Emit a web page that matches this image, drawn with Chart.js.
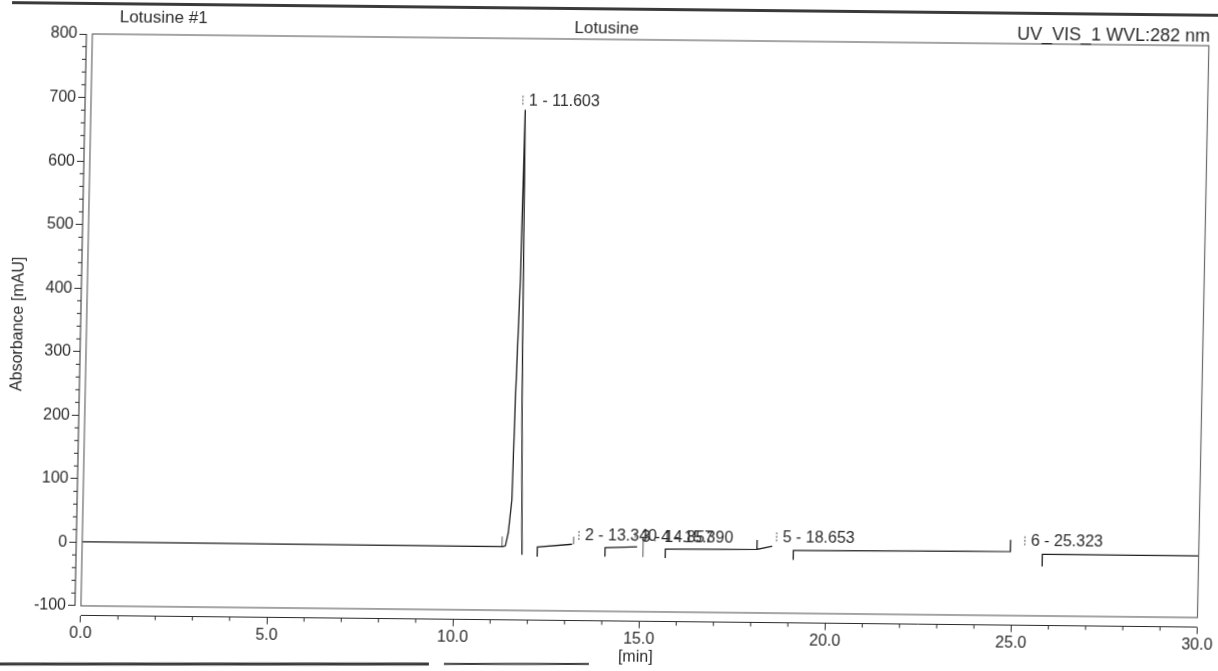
<!DOCTYPE html>
<html><head><meta charset="utf-8">
<script src="https://cdn.jsdelivr.net/npm/chart.js@4.4.1/dist/chart.umd.min.js"></script>
<style>
html,body{margin:0;padding:0;background:#fff;overflow:hidden;width:1218px;height:671px;}
#c{display:block;transform-origin:82px 606px;transform:matrix(1,0.0105,-0.02,1,0,0);}
</style></head><body>
<canvas id="c" width="1218" height="671"></canvas>
<script>
const sampleName = 'Lotusine #1';
const chartTitle = 'Lotusine';
const detectorName = 'UV_VIS_1 WVL:282 nm';
const xTitle = '[min]';
const yTitle = 'Absorbance [mAU]';
const timeTicks = [0, 5, 10, 15, 20, 25, 30];
const absTicks = [-100, 0, 100, 200, 300, 400, 500, 600, 700, 800];

// chromatogram trace (null = gap in the printed trace)
const traceTimes  = [0, 11.30, 11.37, 11.44, 11.52, 11.56, 11.63, 11.67, 11.71, 11.74, 11.79, 11.82, 12.00, 12.23, 12.23, 13.16, 13.60, 14.05, 14.05, 14.91, 15.30, 15.67, 15.67, 18.13, 18.13, 18.13, 18.54, 18.80, 19.11, 19.11, 24.94, 24.94, 25.40, 25.80, 25.80, 30.00];
const traceValues = [1, 0, 1.3, 21.9, 73.9, 231, 420, 688, 420, 231, 74, -12.5, null, -15, 0, 5, null, -14, 0, 2, null, -15, -1, 0, 15, 0, 5, null, -16, -1, 1, 19, null, -22, -3, -3];

// peak delimiters
const delimTimes = [11.28, 13.20, 15.07];
const delimLow   = [0, 5, -14];
const delimHigh  = [16, 17, 18];

// peak table
const peakNumbers = [1, 2, 3, 4, 5, 6];
const peakTimes   = [11.603, 13.340, 14.857, 15.390, 18.653, 25.323];
const peakHeights = [688, 4, 3, 3, 5, 3];

const FONT = 'Liberation Sans, Arial, sans-serif';
const INK = '#2b2b2b';

const tracePts = traceTimes.map((t, i) => ({x: t, y: traceValues[i]}));
const delimPts = [];
delimTimes.forEach((t, i) => {
  delimPts.push({x: t, y: delimLow[i]}, {x: t, y: delimHigh[i]}, {x: t, y: null});
});

function seg(ctx, x1, y1, x2, y2) { ctx.beginPath(); ctx.moveTo(x1, y1); ctx.lineTo(x2, y2); ctx.stroke(); }

const decor = {
  id: 'decor',
  beforeDraw(chart) {
    const ctx = chart.ctx;
    ctx.save();
    ctx.fillStyle = '#fff';
    ctx.fillRect(0, 0, chart.width, chart.height);
    ctx.restore();
  },
  afterDraw(chart) {
    const {ctx, chartArea: a, scales} = chart;
    const xs = scales.x, ys = scales.y;
    const X = v => xs.getPixelForValue(v), Y = v => ys.getPixelForValue(v);
    ctx.save();
    const fl = X(timeTicks[0]), fr = X(timeTicks[timeTicks.length - 1]);
    const ft = Y(absTicks[absTicks.length - 1]), fb = Y(absTicks[0]);
    // plot frame
    ctx.strokeStyle = '#6a6a6a'; ctx.lineWidth = 1.2;
    ctx.strokeRect(fl, ft, fr - fl, fb - ft);
    // axis lines
    ctx.strokeStyle = INK; ctx.lineWidth = 1;
    seg(ctx, fl, a.bottom, fr, a.bottom);
    seg(ctx, a.left, ft, a.left, fb);
    // minor ticks
    for (let t = timeTicks[0]; t <= timeTicks[timeTicks.length - 1]; t += 1) {
      if (t % 5) seg(ctx, X(t), a.bottom, X(t), a.bottom + 4);
    }
    for (let v = absTicks[0]; v <= absTicks[absTicks.length - 1]; v += 20) {
      if (v % 100) seg(ctx, a.left - 4, Y(v), a.left, Y(v));
    }
    // peak labels
    ctx.font = '16px ' + FONT;
    ctx.fillStyle = INK;
    ctx.textBaseline = 'middle';
    ctx.textAlign = 'left';
    peakNumbers.forEach((n, i) => {
      const px = X(peakTimes[i]);
      const py = Y(peakHeights[i]) - 9;
      ctx.strokeStyle = '#555'; ctx.lineWidth = 1;
      ctx.setLineDash([2, 1.5]);
      seg(ctx, px, py - 5, px, py + 5);
      ctx.setLineDash([]);
      ctx.fillText(n + ' - ' + peakTimes[i].toFixed(3), px + 6, py);
    });
    // header texts
    ctx.font = '17px ' + FONT;
    ctx.textAlign = 'left';
    ctx.fillText(sampleName, fl + 27, 17.5);
    ctx.textAlign = 'center';
    ctx.fillText(chartTitle, 595, 23.5);
    ctx.font = '18px ' + FONT;
    ctx.textAlign = 'right';
    ctx.fillText(detectorName, fr + 1, 25);
    // scanned page edges
    ctx.strokeStyle = '#3a3a3a'; ctx.lineWidth = 3;
    seg(ctx, 0, 3.5, chart.width, 3.5);
    seg(ctx, 0, 665, 430, 660.5);
    ctx.lineWidth = 2;
    seg(ctx, 445, 660.3, 590, 658.8);
    ctx.restore();
  }
};

new Chart(document.getElementById('c'), {
  type: 'line',
  data: {
    datasets: [
      {data: tracePts, borderColor: '#1e1e1e', borderWidth: 1.3, pointRadius: 0, tension: 0, spanGaps: false, fill: false},
      {data: delimPts, borderColor: '#555', borderWidth: 1, pointRadius: 0, tension: 0, spanGaps: false, fill: false}
    ]
  },
  options: {
    responsive: false,
    animation: false,
    devicePixelRatio: 1,
    layout: {padding: {top: 34, right: 20.5, bottom: 0, left: 0}},
    plugins: {legend: {display: false}, tooltip: {enabled: false}, title: {display: false}},
    scales: {
      x: {
        type: 'linear', min: -0.16, max: 30,
        afterBuildTicks: s => { s.ticks = timeTicks.map(v => ({value: v})); },
        afterFit: s => { s.height = 55.5; },
        border: {display: false},
        grid: {display: true, drawOnChartArea: false, drawTicks: true, tickLength: 7, color: INK, lineWidth: 1},
        ticks: {font: {family: FONT, size: 16}, color: INK, padding: 1, maxRotation: 0, autoSkip: false,
                callback: v => Number(v).toFixed(1)},
        title: {display: true, text: xTitle, font: {family: FONT, size: 16}, color: INK, padding: {top: 0, bottom: 10}}
      },
      y: {
        type: 'linear', min: -115, max: 800,
        afterBuildTicks: s => { s.ticks = absTicks.map(v => ({value: v})); },
        afterFit: s => { s.width = 75; },
        border: {display: false},
        grid: {display: true, drawOnChartArea: false, drawTicks: true, tickLength: 7, color: INK, lineWidth: 1},
        ticks: {font: {family: FONT, size: 16}, color: INK, padding: 2, autoSkip: false},
        title: {display: true, text: yTitle, font: {family: FONT, size: 16}, color: INK, padding: {top: 3, bottom: 0}}
      }
    }
  },
  plugins: [decor]
});
</script>
</body></html>
